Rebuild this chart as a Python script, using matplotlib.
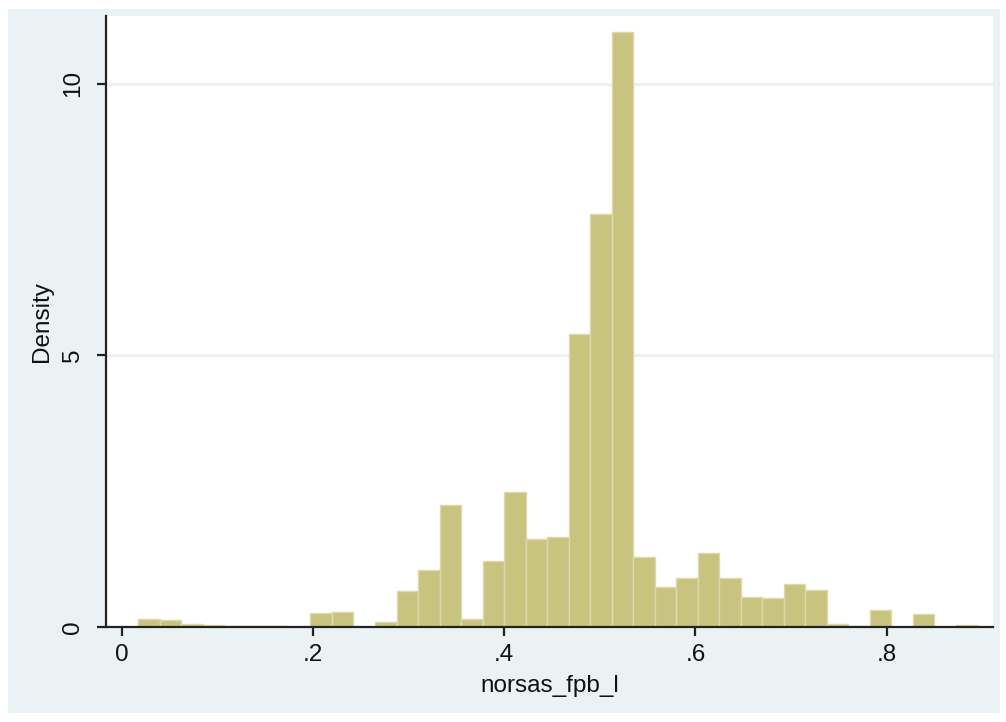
import matplotlib
matplotlib.use("Agg")
import matplotlib.pyplot as plt
from matplotlib.patches import Rectangle
import numpy as np

plt.rcParams['font.family'] = ['Liberation Sans', 'DejaVu Sans']

# histogram of norsas_fpb_l (density per bin), 39 bins
bin_start = 0.0174
bin_width = 0.0225
density = [0.14, 0.12, 0.055, 0.035, 0.015, 0.01, 0.01, 0.005,
           0.26, 0.28, 0.0, 0.10, 0.66, 1.05, 2.25, 0.15,
           1.22, 2.48, 1.62, 1.65, 5.40, 7.60, 10.95, 1.28,
           0.73, 0.90, 1.37, 0.90, 0.56, 0.54, 0.80, 0.69,
           0.055, 0.02, 0.31, 0.0, 0.24, 0.0, 0.03]
x_ticks = [0, 0.2, 0.4, 0.6, 0.8]
x_ticklabels = ['0', '.2', '.4', '.6', '.8']
y_ticks = [0, 5, 10]

panel_color = '#EAF2F3'
bar_color = '#C9C380'
bar_edge = '#DDD9AC'
axis_color = '#222222'

fig = plt.figure(figsize=(10.06, 7.22), dpi=100)
fig.patch.set_facecolor('white')
# light blue Stata graph region, drawn behind the axes
panel = Rectangle((8 / 1006, 1 - 713 / 722), 992 / 1006, 704 / 722,
                  transform=fig.transFigure, facecolor=panel_color,
                  edgecolor='none', zorder=-10)
fig.add_artist(panel)

ax = fig.add_axes([106 / 1006, 1 - 627 / 722, 887 / 1006, 611 / 722])
ax.set_zorder(1)
ax.set_facecolor('white')

lefts = bin_start + bin_width * np.arange(len(density))
ax.bar(lefts, density, width=bin_width, align='edge', color=bar_color,
       edgecolor=bar_edge, linewidth=1.0, zorder=3)

for y in y_ticks[1:]:
    ax.axhline(y, color=panel_color, linewidth=2.2, zorder=1)

ax.set_xlim(-0.0164, 0.9112)
ax.set_ylim(0, 11.25)

ax.set_xticks(x_ticks)
ax.set_xticklabels(x_ticklabels)
ax.set_yticks(y_ticks)
ax.set_yticklabels([str(v) for v in y_ticks], rotation=90, va='center')

for side in ['top', 'right']:
    ax.spines[side].set_visible(False)
for side in ['left', 'bottom']:
    ax.spines[side].set_color(axis_color)
    ax.spines[side].set_linewidth(1.6)
    ax.spines[side].set_zorder(4)

ax.tick_params(axis='both', colors=axis_color, length=6.5, width=1.6,
               labelsize=17.5, labelcolor='#111111')
ax.tick_params(axis='x', pad=6)
ax.tick_params(axis='y', pad=9)

ax.set_xlabel('norsas_fpb_l', fontsize=17.5, color='#111111', labelpad=6)
ax.set_ylabel('Density', fontsize=17.5, color='#111111', labelpad=7)

fig.savefig('out.png', dpi=100, facecolor=fig.get_facecolor())
